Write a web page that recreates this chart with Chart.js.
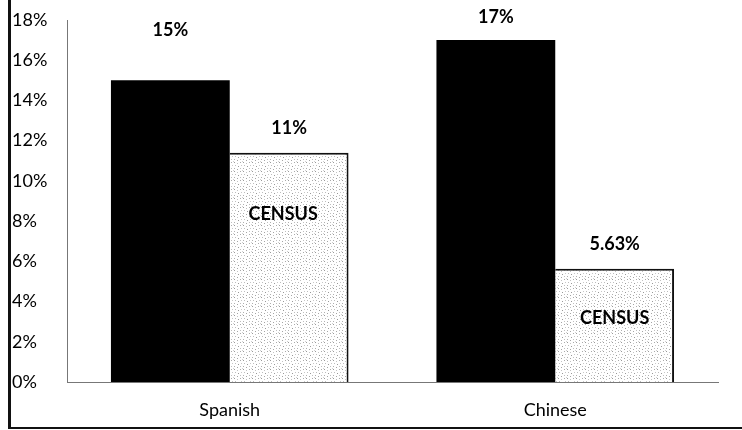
<!DOCTYPE html>
<html>
<head>
<meta charset="utf-8">
<script src="https://cdn.jsdelivr.net/npm/chart.js@4.4.1/dist/chart.umd.min.js"></script>
<style>
html,body{margin:0;padding:0;background:#fff;}
canvas{display:block;}
</style>
</head>
<body>
<canvas id="c" width="742" height="430"></canvas>
<script>
// ---- data ----
const categories = ["Spanish", "Chinese"];
const surveyValues = [15, 17];
const censusValues = [11.4, 5.63];
const surveyLabels = ["15%", "17%"];
const censusLabels = ["11%", "5.63%"];
const censusTag = "CENSUS";
const yTicks = [0, 2, 4, 6, 8, 10, 12, 14, 16, 18];

// ---- stipple pattern for census bars ----
function makeStipple() {
  const t = document.createElement('canvas');
  t.width = 9; t.height = 9;
  const g = t.getContext('2d');
  g.fillStyle = '#ffffff';
  g.fillRect(0, 0, 9, 9);
  const dots = [[0,0,'#9a9a9a'],[3,1,'#c4c4c4'],[6,0,'#aaaaaa'],[1,3,'#bdbdbd'],[4,4,'#999999'],[7,3,'#c8c8c8'],
                [0,6,'#b0b0b0'],[3,7,'#a5a5a5'],[6,6,'#c0c0c0'],[8,8,'#d0d0d0']];
  dots.forEach(d => { g.fillStyle = d[2]; g.fillRect(d[0], d[1], 1, 1); });
  return g.createPattern(t, 'repeat');
}
const ctx0 = document.getElementById('c').getContext('2d');
const stipple = makeStipple();

const labelPlugin = {
  id: 'labels',
  afterDraw(chart) {
    const ctx = chart.ctx;
    const y = chart.scales.y;
    ctx.save();
    // frame: thick left line and bottom line
    ctx.fillStyle = '#111';
    ctx.fillRect(8, 0, 3, 429);
    ctx.fillRect(8, 427, 734, 2);
    // value labels
    ctx.fillStyle = '#000';
    ctx.textAlign = 'center';
    ctx.textBaseline = 'middle';
    ctx.font = 'bold 18px Lato';
    const offsets = [[50, 25], [23, 25]];
    const texts = [surveyLabels, censusLabels];
    [0, 1].forEach(ds => {
      const meta = chart.getDatasetMeta(ds);
      meta.data.forEach((bar, i) => {
        ctx.fillText(texts[ds][i], bar.x, bar.y - offsets[i][ds]);
      });
    });
    // CENSUS tags inside census bars
    const tagAt = [8.35, 3.18];
    ctx.font = 'bold 18px Lato';
    const meta = chart.getDatasetMeta(1);
    meta.data.forEach((bar, i) => {
      ctx.fillText(censusTag, bar.x - (i === 0 ? 6 : 0), y.getPixelForValue(tagAt[i]));
    });
    ctx.restore();
  }
};

new Chart(ctx0, {
  type: 'bar',
  data: {
    labels: categories,
    datasets: [
      {
        label: 'Survey',
        data: surveyValues,
        backgroundColor: '#000000',
        borderWidth: 0,
        categoryPercentage: 0.73,
        barPercentage: 1.0
      },
      {
        label: 'Census',
        data: censusValues,
        backgroundColor: stipple,
        borderColor: '#111111',
        borderWidth: {top: 2, right: 2, left: 0, bottom: 0},
        borderSkipped: false,
        categoryPercentage: 0.73,
        barPercentage: 1.0
      }
    ]
  },
  options: {
    responsive: false,
    animation: false,
    devicePixelRatio: 1,
    layout: {padding: {left: 12, right: 24, top: 20, bottom: 0}},
    plugins: {legend: {display: false}, tooltip: {enabled: false}},
    scales: {
      x: {
        grid: {display: false, drawTicks: false},
        border: {display: true, color: '#777', dash: [1, 1], width: 1},
        ticks: {color: '#000', font: {family: 'Lato', size: 18}, padding: 17},
        afterFit(s) { s.height = 48; }
      },
      y: {
        min: 0, max: 18,
        afterBuildTicks(s) { s.ticks = yTicks.map(v => ({value: v})); },
        grid: {display: false, drawTicks: false},
        border: {display: true, color: '#777', dash: [1, 1], width: 1},
        ticks: {color: '#000', font: {family: 'Lato', size: 18}, crossAlign: 'far', padding: 0,
                callback: v => v + '%'},
        afterFit(s) { s.width = 55; }
      }
    }
  },
  plugins: [labelPlugin]
});
</script>
</body>
</html>
